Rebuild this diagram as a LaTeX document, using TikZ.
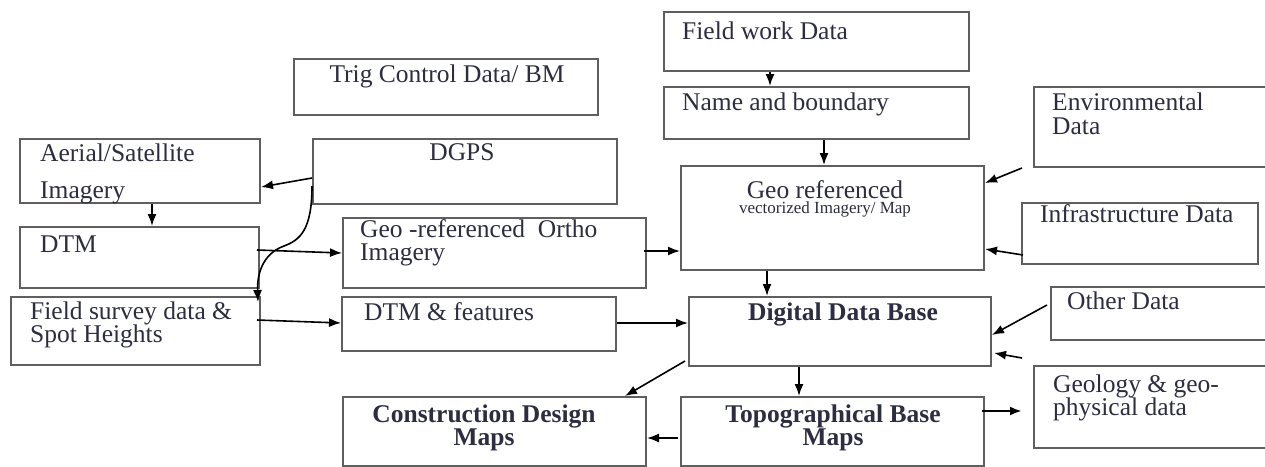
\documentclass[tikz,border=0pt]{standalone}
\usepackage{fontspec}
\setmainfont{Liberation Serif}
\usepackage{tikz}
\usetikzlibrary{arrows.meta}
\usepackage{xcolor}
\definecolor{boxgray}{RGB}{95,95,95}
\definecolor{inkgray}{RGB}{45,45,65}
\lineskiplimit=-100pt
\tikzstyle{databox}=[draw=boxgray, line width=2pt, anchor=north west, inner sep=0pt]
\tikzstyle{boxtext}=[inner sep=0pt, text=inkgray, align=left, font=\fontsize{25.5}{22.5}\selectfont]
\tikzstyle{boldtext}=[boxtext, align=center, font=\fontsize{25.5}{22.5}\selectfont\bfseries]
\tikzstyle{flow}=[-{Latex[length=12pt,width=9pt]}, line width=1.6pt]

\begin{document}
\begin{tikzpicture}[x=1pt,y=-1pt]
		\clip (0,0) rectangle (1265,466);
		\fill[white] (0,0) rectangle (1265,466);
		% boxes
		\node[databox, minimum width=305pt, minimum height=59pt] (fieldwork) at (663,11) {};
		\node[databox, minimum width=305pt, minimum height=52pt] (boundary) at (663,86) {};
		\node[databox, minimum width=304pt, minimum height=56pt] (trig) at (293,58) {};
		\node[databox, minimum width=242pt, minimum height=80pt] (environ) at (1033,86) {};
		\node[databox, minimum width=240pt, minimum height=64pt] (aerial) at (19,138) {};
		\node[databox, minimum width=304pt, minimum height=65pt] (dgps) at (312,138) {};
		\node[databox, minimum width=303pt, minimum height=104pt] (georef) at (680,165) {};
		\node[databox, minimum width=236pt, minimum height=61pt] (infra) at (1021,202) {};
		\node[databox, minimum width=239pt, minimum height=61pt] (dtm) at (19,226) {};
		\node[databox, minimum width=303pt, minimum height=70pt] (ortho) at (342,217) {};
		\node[databox, minimum width=249pt, minimum height=68pt] (survey) at (10,296) {};
		\node[databox, minimum width=274pt, minimum height=54pt] (features) at (341,296) {};
		\node[databox, minimum width=302pt, minimum height=69pt] (database) at (688,296) {};
		\node[databox, minimum width=225pt, minimum height=53pt] (other) at (1050,286) {};
		\node[databox, minimum width=242pt, minimum height=82pt] (geology) at (1033,365) {};
		\node[databox, minimum width=303pt, minimum height=69pt] (construct) at (342,396) {};
		\node[databox, minimum width=303pt, minimum height=69pt] (topo) at (680,396) {};
		% texts (two-line nodes sit on their last baseline)
		\node[boxtext, anchor=base west] (fieldworkt) at (682,39) {Field work Data};
		\node[boxtext, anchor=base west] (boundaryt) at (682,110) {Name and boundary};
		\node[boxtext, anchor=base] (trigt) at (447,82) {Trig Control Data/ BM};
		\node[boxtext, anchor=base west, font=\fontsize{25.5}{24}\selectfont] (environt) at (1052,134) {Environmental\\Data};
		\node[boxtext, anchor=base west, font=\fontsize{25.5}{37}\selectfont] (aerialt) at (40,198) {Aerial/Satellite\\Imagery};
		\node[boxtext, anchor=base] (dgpst) at (462,160) {DGPS};
		\node[boxtext, anchor=base] (georeft) at (825,198) {Geo referenced};
		\node[boxtext, anchor=base, font=\fontsize{17}{17}\selectfont] (georefst) at (825,213) {vectorized Imagery/ Map};
		\node[boxtext, anchor=base west] (infrat) at (1040,222) {Infrastructure Data};
		\node[boxtext, anchor=base west] (dtmt) at (40,252) {DTM};
		\node[boxtext, anchor=base west] (orthot) at (360,260) {Geo -referenced\ \ Ortho\\Imagery};
		\node[boxtext, anchor=base west] (surveyt) at (30,342) {Field survey data \&\\Spot Heights};
		\node[boxtext, anchor=base west] (featurest) at (364,320) {DTM \& features};
		\node[boldtext, anchor=base] (databaset) at (843,320) {Digital Data Base};
		\node[boxtext, anchor=base west] (othert) at (1067,309) {Other Data};
		\node[boxtext, anchor=base west] (geologyt) at (1053,415) {Geology \& geo-\\physical data};
		\node[boldtext, anchor=base] (constructt) at (484,445) {Construction Design\\Maps};
		\node[boldtext, anchor=base] (topot) at (833,445) {Topographical Base\\Maps};
		% connectors
		\draw[flow] ([xshift=107pt]fieldwork.south west) -- ([xshift=107pt]boundary.north west);
		\draw[flow] ([xshift=161pt]boundary.south west) -- ([xshift=144pt]georef.north west);
		\draw[flow] ([xshift=-11pt]environ.south west) -- ([yshift=-18pt]georef.north east);
		\draw[flow] ([xshift=2pt,yshift=10pt]infra.south west) -- ([yshift=22pt]georef.south east);
		\draw[flow] ([xshift=87pt]georef.south west) -- ([xshift=79pt]database.north west);
		\draw[flow] ([yshift=-40pt]dgps.north west) -- ([yshift=17pt]aerial.south east);
		\draw[flow] ([yshift=-48pt]dgps.north west) .. controls (312,230) and (300,240) .. (284,246)
			.. controls (262,254) and (257,275) .. ([xshift=-3pt,yshift=-6pt]survey.north east);
		\draw[flow] ([xshift=133pt]aerial.south west) -- ([xshift=133pt]dtm.north west);
		\draw[flow] ([xshift=-3pt,yshift=-24pt]dtm.north east) -- ([yshift=-36pt]ortho.north west);
		\draw[flow] ([xshift=-4pt,yshift=-24pt]survey.north east) -- ([yshift=-27pt]features.north west);
		\draw[flow] ([xshift=-3pt,yshift=-34pt]ortho.north east) -- ([yshift=-86pt]georef.north west);
		\draw[flow] ([yshift=-27pt]features.north east) -- ([yshift=-27pt]database.north west);
		\draw[flow] ([xshift=-3pt,yshift=-19pt]other.north west) -- ([yshift=-39pt]database.north east);
		\draw[flow] ([xshift=-11pt,yshift=7pt]geology.north west) -- ([xshift=2pt,yshift=14pt]database.south east);
		\draw[flow] ([xshift=-3pt,yshift=6pt]database.south west) -- ([xshift=-22pt]construct.north east);
		\draw[flow] ([xshift=111pt]database.south west) -- ([xshift=119pt]topo.north west);
		\draw[flow] ([xshift=-2pt,yshift=-42pt]topo.north west) -- ([yshift=-42pt]construct.north east);
		\draw[flow, line width=2.4pt] ([xshift=-3pt,yshift=-15pt]topo.north east) -- ([xshift=-11pt,yshift=-46pt]geology.north west);
	\end{tikzpicture}
\end{document}
